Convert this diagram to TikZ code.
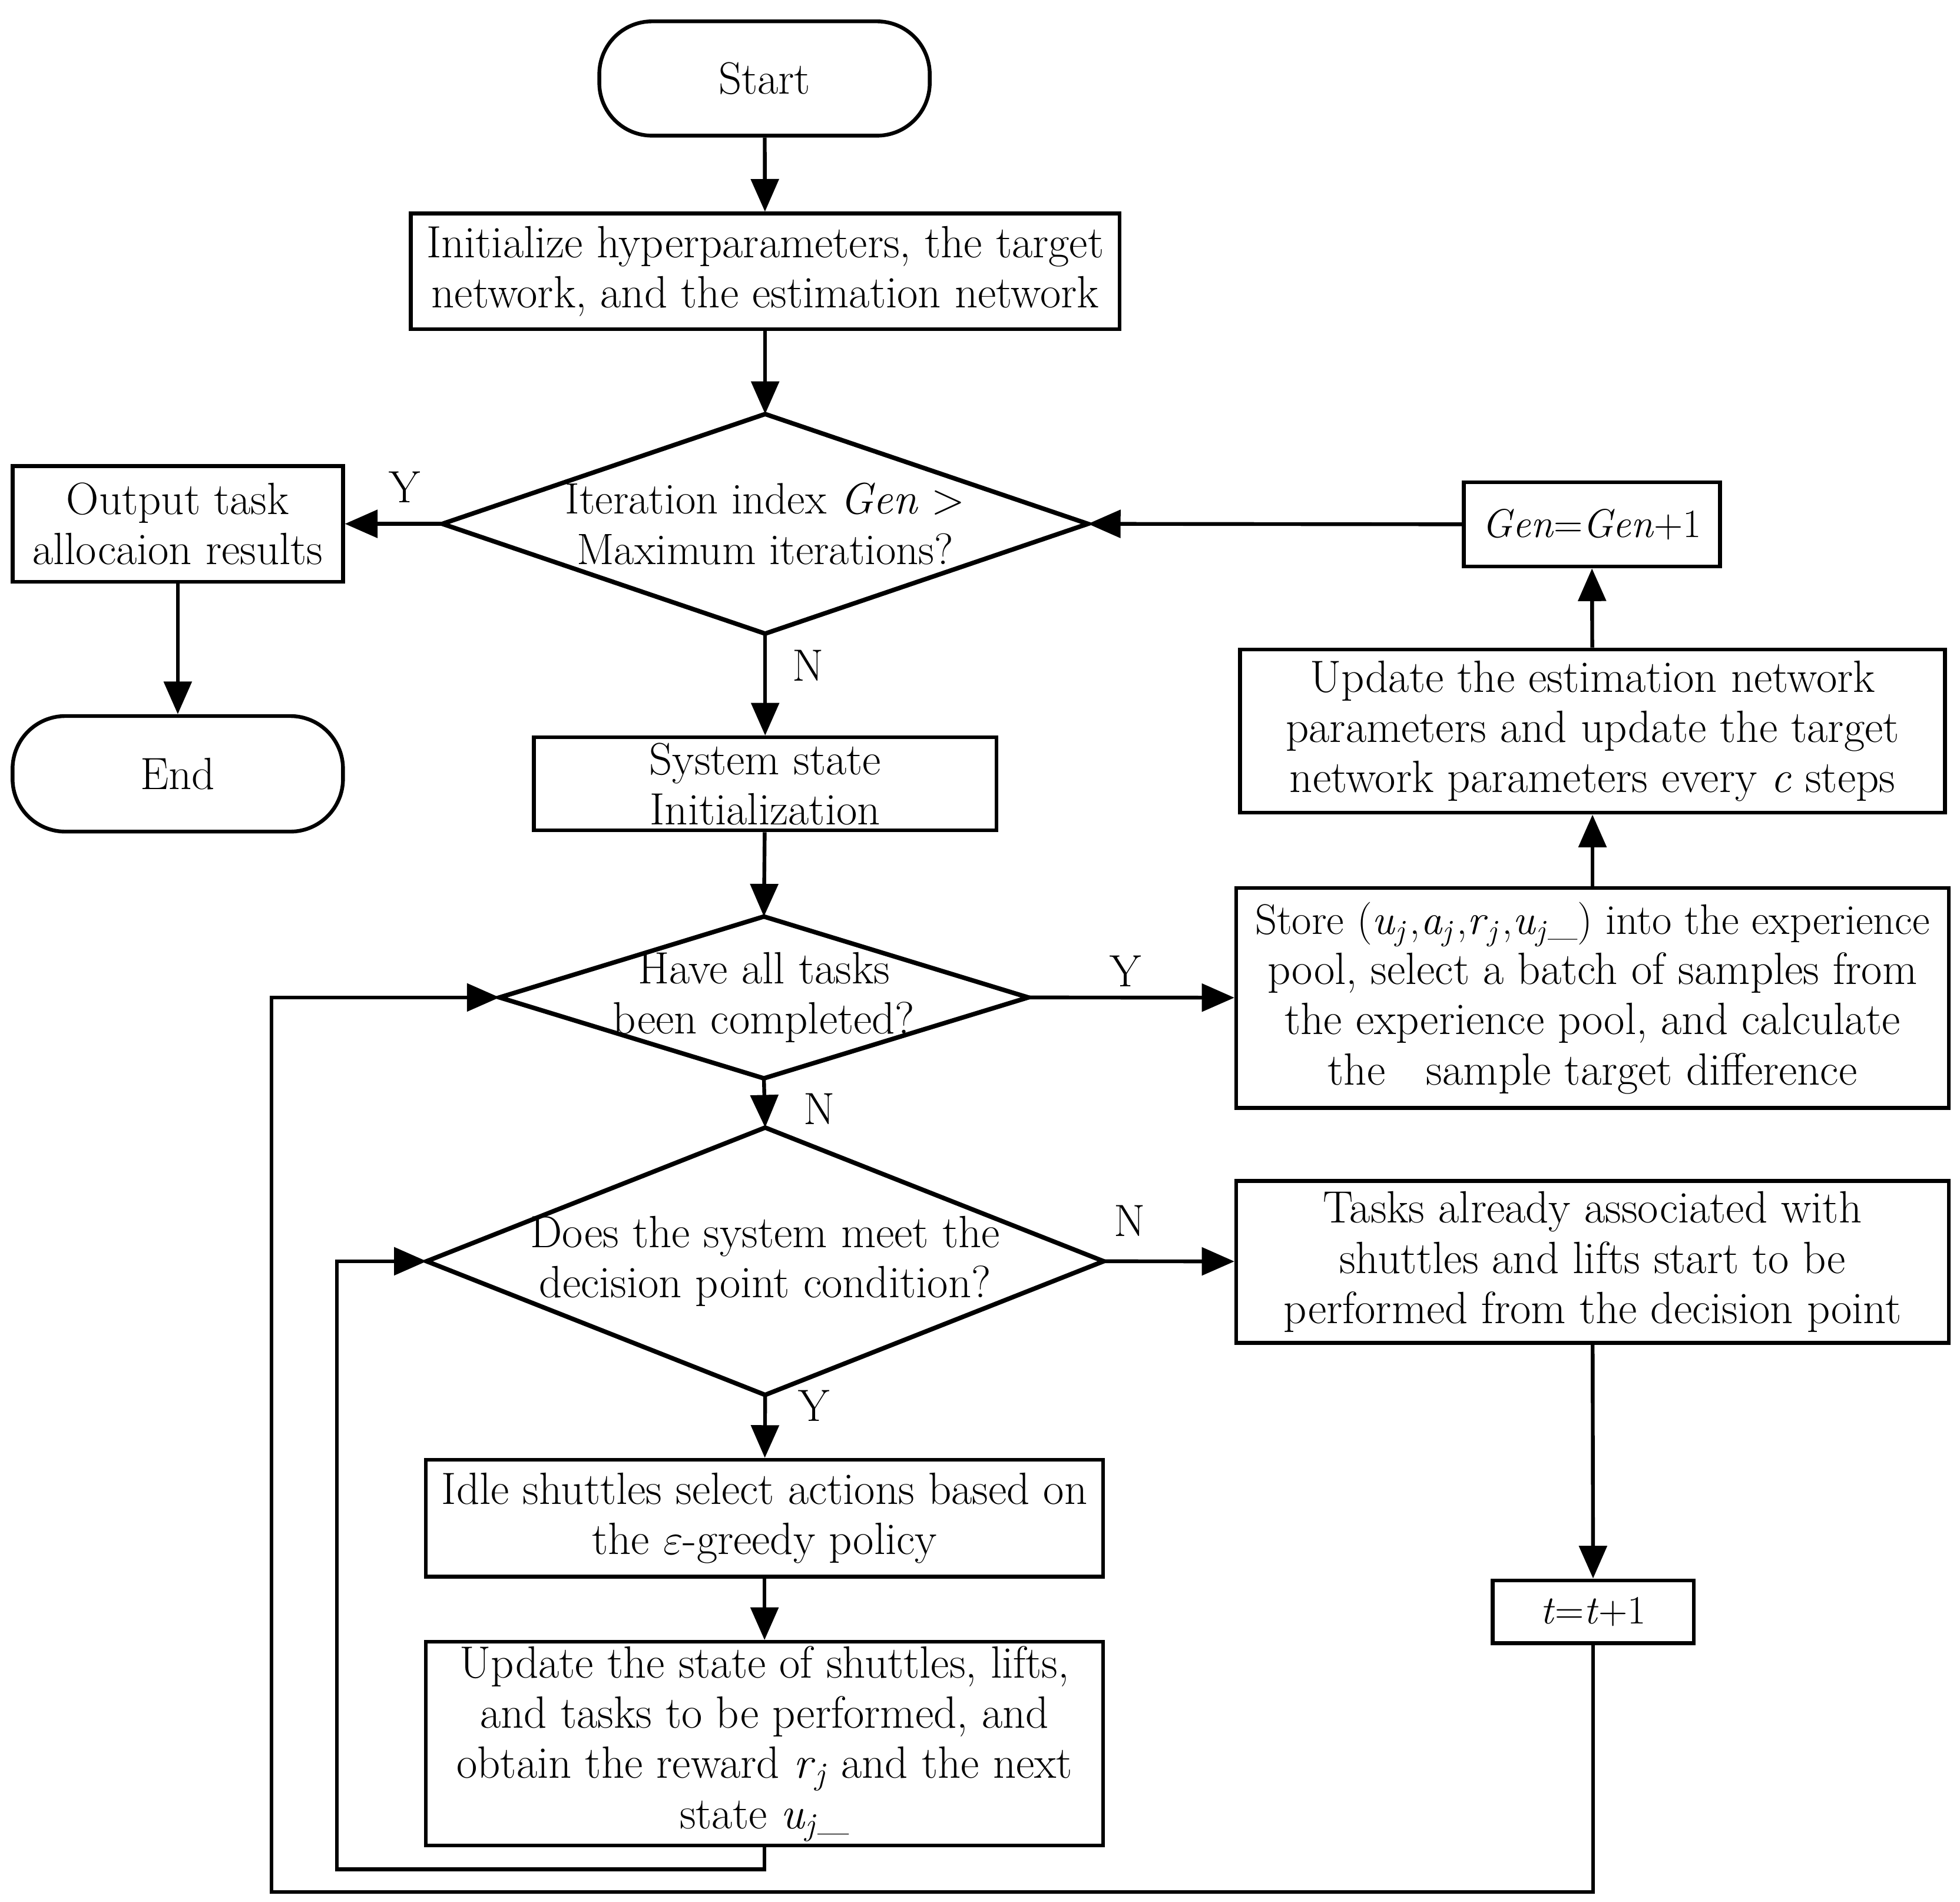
\documentclass[tikz,border=0pt]{standalone}
\usetikzlibrary{arrows.meta}
\newcommand{\vsub}[2]{\textit{#1}\textsubscript{\textit{#2}}}
\begin{document}
\begin{tikzpicture}[x=0.5pt,y=-0.5pt,
  every node/.style={font=\fontsize{18}{20}\selectfont, align=center, inner sep=0pt},
  box/.style={draw, line width=1.5pt, rectangle},
  term/.style={draw, line width=1.5pt, rectangle, rounded corners=21pt},
  dia/.style={rectangle},
  diaborder/.style={draw, line width=1.8pt, line join=miter},
  lbl/.style={font=\fontsize{18}{20}\selectfont},
  smallfont/.style={font=\fontsize{16}{20}\selectfont},
  arr/.style={line width=1.5pt, -{Triangle[length=13pt,width=11pt]}},
  ln/.style={line width=1.5pt}
]
\useasboundingbox (0,0) rectangle (1560,1514);

\node[term, minimum width=131.5pt, minimum height=45.5pt] (start) at (608.5,62.5) {Start};
\node[box, minimum width=282pt, minimum height=46pt] (init) at (609,216) {Initialize hyperparameters, the target\\network, and the estimation network};
\node[dia, minimum width=256.5pt, minimum height=87pt, font=\fontsize{17.5}{20}\selectfont] (d1) at (609,417) {Iteration index \textit{Gen} >\\Maximum iterations?};
\draw[diaborder] (d1.north) -- (d1.east) -- (d1.south) -- (d1.west) -- cycle;
\node[box, minimum width=131.5pt, minimum height=46pt] (out) at (141.5,417) {Output task\\allocaion results};
\node[term, minimum width=131.5pt, minimum height=46pt] (end) at (141.5,616) {End};
\node[box, smallfont, minimum width=102pt, minimum height=33.5pt] (gen) at (1267,417.5) {\textit{Gen}=\textit{Gen}+1};
\node[box, minimum width=280.5pt, minimum height=65pt] (upe) at (1267.5,582) {Update the estimation network\\parameters and update the target\\network parameters every \textit{c} steps};
\node[box, minimum width=184pt, minimum height=37pt] (sys) at (609,624) {System state\\Initialization};
\node[dia, minimum width=210pt, minimum height=64pt] (d2) at (608,794) {Have all tasks\\been completed?};
\draw[diaborder] (d2.north) -- (d2.east) -- (d2.south) -- (d2.west) -- cycle;
\node[box, minimum width=283.5pt, minimum height=87.5pt] (store) at (1267.5,794.5) {{\fontsize{17}{20}\selectfont Store (\vsub{u}{j}\kern1pt,\vsub{a}{j}\kern1pt,\vsub{r}{j}\kern1pt,\vsub{u}{j}\_) into the experience}\\pool, select a batch of samples from\\the experience pool, and calculate\\the\ \ \ sample target difference};
\node[dia, minimum width=269pt, minimum height=106pt] (d3) at (609,1004) {Does the system meet the\\decision point condition?};
\draw[diaborder] (d3.north) -- (d3.east) -- (d3.south) -- (d3.west) -- cycle;
\node[box, minimum width=283.5pt, minimum height=64.5pt] (tasks) at (1267.5,1004.5) {Tasks already associated with\\shuttles and lifts start to be\\performed from the decision point};
\node[box, minimum width=269.5pt, minimum height=46.5pt] (idle) at (608.5,1208.5) {Idle shuttles select actions based on\\the \textit{$\varepsilon$}-greedy policy};
\node[box, minimum width=269.5pt, minimum height=81pt] (ups) at (608.5,1388) {Update the state of shuttles, lifts,\\and tasks to be performed, and\\obtain the reward \vsub{r}{j} and the next\\state \vsub{u}{j}\_};
\node[box, smallfont, minimum width=80pt, minimum height=25pt] (tb) at (1268,1283) {\textit{t}=\textit{t}+1};

\coordinate (l1) at (268,1488);
\coordinate (l2) at (216,1506);

\draw[arr] (start) -- (init);
\draw[arr] (init) -- (d1.north);
\draw[arr] (d1.west) -- (out);
\draw[arr] (out) -- (end);
\draw[arr] (d1.south) -- (sys);
\draw[arr] (sys) -- (d2.north);
\draw[arr] (d2.east) -- (store);
\draw[arr] (store) -- (upe);
\draw[arr] (upe) -- (gen);
\draw[arr] (gen) -- (d1.east);
\draw[arr] (d2.south) -- (d3.north);
\draw[arr] (d3.east) -- (tasks);
\draw[arr] (d3.south) -- (idle);
\draw[arr] (idle) -- (ups);
\draw[arr] (tasks) -- (tb);
\draw[arr] (ups.south) |- (l1) |- (d3.west);
\draw[arr] (tb.south) |- (l2) |- (d2.west);

\node[lbl] (ly1) at (322,388) {Y};
\node[lbl] (ln1) at (643,530) {N};
\node[lbl] (ly2) at (896,773) {Y};
\node[lbl] (ln2) at (652,883) {N};
\node[lbl] (ln3) at (899,972) {N};
\node[lbl] (ly3) at (648,1119) {Y};
\end{tikzpicture}
\end{document}
